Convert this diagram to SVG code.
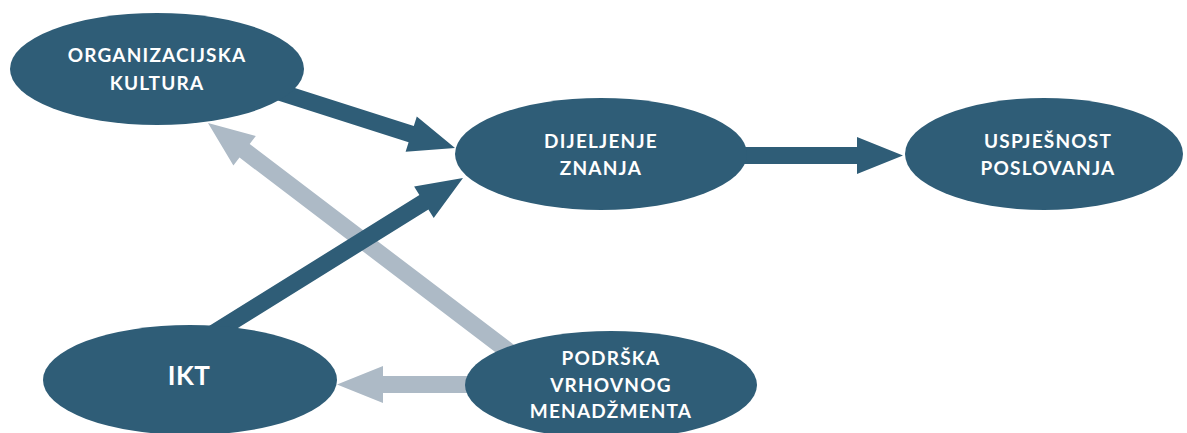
<svg xmlns="http://www.w3.org/2000/svg" width="1187" height="433" viewBox="0 0 1187 433">
  <style>
    .node { fill: #2f5d77; }
    .lbl { fill: #ffffff; font-family: Lato, "Open Sans", "Liberation Sans", sans-serif; font-weight: 700; font-size: 19px; letter-spacing: 1.2px; text-anchor: middle; }
    .big { font-size: 26px; letter-spacing: 0.5px; }
    .strong { fill: #2f5d77; }
    .weak { fill: #adbac6; }
  </style>
  <rect width="1187" height="433" fill="#ffffff"/>

  <!-- block arrows; tails are tucked under the ellipses -->
  <g id="connectors">
    <!-- top management support -> ICT -->
    <polygon class="weak" points="500,376 383,376 383,366 337,384.5 383,403 383,393 500,393"/>
    <!-- top management support -> organisational culture -->
    <polygon class="weak" points="531.5,358.2 249.7,144 255.8,136.1 208,123 233.4,165.5 239.5,157.6 521.3,371.8"/>
    <!-- organisational culture -> knowledge sharing -->
    <polygon class="strong" points="272.9,81.1 413.8,126 416.8,116.5 455,148 405.6,151.7 408.6,142.2 267.7,97.3"/>
    <!-- ICT -> knowledge sharing -->
    <polygon class="strong" points="203.8,329.2 419.4,195.1 414.1,186.6 463,178 433.7,218 428.4,209.5 212.8,343.6"/>
    <!-- knowledge sharing -> business performance -->
    <polygon class="strong" points="740,147 857,147 857,137 903,155.5 857,174 857,164 740,164"/>
  </g>

  <g id="organizacijska-kultura">
    <ellipse class="node" cx="157" cy="69" rx="147" ry="56"/>
    <text class="lbl" x="157" y="62">ORGANIZACIJSKA</text>
    <text class="lbl" x="157" y="90">KULTURA</text>
  </g>

  <g id="dijeljenje-znanja">
    <ellipse class="node" cx="601" cy="154" rx="146" ry="56"/>
    <text class="lbl" x="601" y="148">DIJELJENJE</text>
    <text class="lbl" x="601" y="175">ZNANJA</text>
  </g>

  <g id="uspjesnost-poslovanja">
    <ellipse class="node" cx="1044" cy="154" rx="139" ry="56"/>
    <text class="lbl" x="1048" y="148">USPJEŠNOST</text>
    <text class="lbl" x="1048" y="175">POSLOVANJA</text>
  </g>

  <g id="ikt">
    <ellipse class="node" cx="190" cy="380" rx="147" ry="55"/>
    <text class="lbl big" x="189" y="385">IKT</text>
  </g>

  <g id="podrska-vrhovnog-menadzmenta">
    <ellipse class="node" cx="611" cy="385" rx="146" ry="54"/>
    <text class="lbl" x="611" y="365">PODRŠKA</text>
    <text class="lbl" x="611" y="392">VRHOVNOG</text>
    <text class="lbl" x="611" y="418">MENADŽMENTA</text>
  </g>
</svg>
